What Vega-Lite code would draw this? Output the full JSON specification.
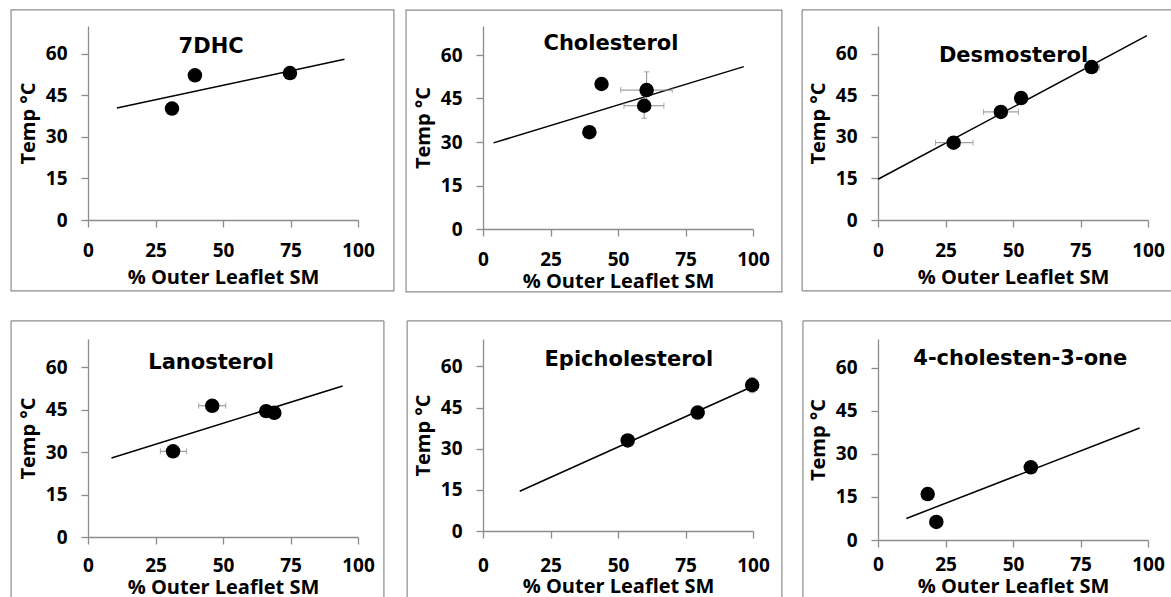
{
  "$schema": "https://vega.github.io/schema/vega-lite/v6.json",
  "padding": {"left": 10, "top": 9, "right": 0, "bottom": 0},
  "background": "white",
  "bounds": "flush",
  "columns": 3,
  "spacing": {"row": 110, "column": 125},
  "datasets": {
    "panels": [
      {"compound": "7DHC"}, {"compound": "Cholesterol"}, {"compound": "Desmosterol"},
      {"compound": "Lanosterol"}, {"compound": "Epicholesterol"}, {"compound": "4-cholesten-3-one"}
    ],
    "points": [
      {"compound": "7DHC", "x": 31.1, "y": 40.2},
      {"compound": "7DHC", "x": 39.6, "y": 52.2},
      {"compound": "7DHC", "x": 74.8, "y": 53.0},
      {"compound": "Cholesterol", "x": 39.4, "y": 33.4},
      {"compound": "Cholesterol", "x": 43.9, "y": 50.0},
      {"compound": "Cholesterol", "x": 60.6, "y": 47.9, "xlo": 51.0, "xhi": 70.1, "ylo": 41.6, "yhi": 54.2},
      {"compound": "Cholesterol", "x": 59.7, "y": 42.5, "xlo": 52.2, "xhi": 67.0, "ylo": 38.2, "yhi": 46.8},
      {"compound": "Desmosterol", "x": 28.0, "y": 27.9, "xlo": 21.3, "xhi": 35.2},
      {"compound": "Desmosterol", "x": 45.5, "y": 39.0, "xlo": 39.1, "xhi": 52.0},
      {"compound": "Desmosterol", "x": 53.0, "y": 44.0},
      {"compound": "Desmosterol", "x": 79.1, "y": 55.2, "xlo": 76.5, "xhi": 82.0},
      {"compound": "Lanosterol", "x": 31.5, "y": 30.3, "xlo": 26.8, "xhi": 36.5},
      {"compound": "Lanosterol", "x": 46.0, "y": 46.4, "xlo": 41.0, "xhi": 51.0},
      {"compound": "Lanosterol", "x": 66.0, "y": 44.5},
      {"compound": "Lanosterol", "x": 69.0, "y": 43.9},
      {"compound": "Epicholesterol", "x": 53.6, "y": 33.0},
      {"compound": "Epicholesterol", "x": 79.5, "y": 43.2},
      {"compound": "Epicholesterol", "x": 99.7, "y": 53.2, "ylo": 50.4, "yhi": 56.0},
      {"compound": "4-cholesten-3-one", "x": 18.4, "y": 16.0},
      {"compound": "4-cholesten-3-one", "x": 21.6, "y": 6.3},
      {"compound": "4-cholesten-3-one", "x": 56.6, "y": 25.3}
    ],
    "lines": [
      {"compound": "7DHC", "x": 10.7, "y": 40.4},
      {"compound": "7DHC", "x": 95.0, "y": 58.0},
      {"compound": "Cholesterol", "x": 3.9, "y": 29.7},
      {"compound": "Cholesterol", "x": 96.6, "y": 56.0},
      {"compound": "Desmosterol", "x": 0.0, "y": 14.7},
      {"compound": "Desmosterol", "x": 99.6, "y": 66.5},
      {"compound": "Lanosterol", "x": 8.7, "y": 27.9},
      {"compound": "Lanosterol", "x": 94.3, "y": 53.4},
      {"compound": "Epicholesterol", "x": 13.6, "y": 14.5},
      {"compound": "Epicholesterol", "x": 99.4, "y": 52.5},
      {"compound": "4-cholesten-3-one", "x": 10.5, "y": 7.5},
      {"compound": "4-cholesten-3-one", "x": 96.9, "y": 39.0}
    ]
  },
  "concat": [
    {
      "width": 270, "height": 194,
      "layer": [
        {"data": {"name": "panels"}, "transform": [{"filter": "datum.compound == '7DHC'"}],
         "mark": {"type": "rect", "filled": false, "stroke": "#8c8c8c", "strokeWidth": 1.2},
         "encoding": {
           "x": {"datum": -28.5, "type": "quantitative", "scale": {"domain": [0, 100], "nice": false}, "axis": {"values": [0, 25, 50, 75, 100], "title": "% Outer Leaflet SM"}},
           "x2": {"datum": 113.3},
           "y": {"datum": -25.6, "type": "quantitative", "scale": {"domain": [0, 70], "nice": false}, "axis": {"values": [0, 15, 30, 45, 60], "title": "Temp °C"}},
           "y2": {"datum": 75.8}}},
        {"data": {"name": "lines"}, "transform": [{"filter": "datum.compound == '7DHC'"}],
         "mark": {"type": "line", "color": "#000", "strokeWidth": 1.5},
         "encoding": {
           "x": {"field": "x", "type": "quantitative", "scale": {"domain": [0, 100], "nice": false}, "axis": {"values": [0, 25, 50, 75, 100], "title": "% Outer Leaflet SM"}},
           "y": {"field": "y", "type": "quantitative", "scale": {"domain": [0, 70], "nice": false}, "axis": {"values": [0, 15, 30, 45, 60], "title": "Temp °C"}}}},
        {"data": {"name": "points"}, "transform": [{"filter": "datum.compound == '7DHC'"}],
         "mark": {"type": "circle", "size": 210, "color": "#000", "opacity": 1},
         "encoding": {
           "x": {"field": "x", "type": "quantitative", "scale": {"domain": [0, 100], "nice": false}, "axis": {"values": [0, 25, 50, 75, 100], "title": "% Outer Leaflet SM"}},
           "y": {"field": "y", "type": "quantitative", "scale": {"domain": [0, 70], "nice": false}, "axis": {"values": [0, 15, 30, 45, 60], "title": "Temp °C"}}}},
        {"data": {"name": "panels"}, "transform": [{"filter": "datum.compound == '7DHC'"}],
         "mark": {"type": "text", "font": "DejaVu Sans", "fontWeight": "bold", "fontSize": 21, "align": "center", "baseline": "middle", "color": "#000"},
         "encoding": {
           "x": {"datum": 45.6, "type": "quantitative", "scale": {"domain": [0, 100], "nice": false}, "axis": {"values": [0, 25, 50, 75, 100], "title": "% Outer Leaflet SM"}},
           "y": {"datum": 62.4, "type": "quantitative", "scale": {"domain": [0, 70], "nice": false}, "axis": {"values": [0, 15, 30, 45, 60], "title": "Temp °C"}},
           "text": {"field": "compound"}}}
      ]
    },
    {
      "width": 270, "height": 203,
      "layer": [
        {"data": {"name": "panels"}, "transform": [{"filter": "datum.compound == 'Cholesterol'"}],
         "mark": {"type": "rect", "filled": false, "stroke": "#8c8c8c", "strokeWidth": 1.2},
         "encoding": {
           "x": {"datum": -28.5, "type": "quantitative", "scale": {"domain": [0, 100], "nice": false}, "axis": {"values": [0, 25, 50, 75, 100], "title": "% Outer Leaflet SM", "titlePadding": 2}},
           "x2": {"datum": 110.7},
           "y": {"datum": -21.7, "type": "quantitative", "scale": {"domain": [0, 70], "nice": false}, "axis": {"values": [0, 15, 30, 45, 60], "title": "Temp °C"}},
           "y2": {"datum": 75.5}}},
        {"data": {"name": "lines"}, "transform": [{"filter": "datum.compound == 'Cholesterol'"}],
         "mark": {"type": "line", "color": "#000", "strokeWidth": 1.5},
         "encoding": {
           "x": {"field": "x", "type": "quantitative", "scale": {"domain": [0, 100], "nice": false}, "axis": {"values": [0, 25, 50, 75, 100], "title": "% Outer Leaflet SM", "titlePadding": 2}},
           "y": {"field": "y", "type": "quantitative", "scale": {"domain": [0, 70], "nice": false}, "axis": {"values": [0, 15, 30, 45, 60], "title": "Temp °C"}}}},
        {"data": {"name": "points"}, "transform": [{"filter": "datum.compound == 'Cholesterol' && isValid(datum.xlo)"}],
         "mark": {"type": "errorbar", "ticks": {"size": 6}, "color": "#8a8a8a", "thickness": 1},
         "encoding": {
           "x": {"field": "xlo", "type": "quantitative", "scale": {"domain": [0, 100], "nice": false}, "axis": {"values": [0, 25, 50, 75, 100], "title": "% Outer Leaflet SM", "titlePadding": 2}},
           "x2": {"field": "xhi"},
           "y": {"field": "y", "type": "quantitative", "scale": {"domain": [0, 70], "nice": false}, "axis": {"values": [0, 15, 30, 45, 60], "title": "Temp °C"}}}},
        {"data": {"name": "points"}, "transform": [{"filter": "datum.compound == 'Cholesterol' && isValid(datum.ylo)"}],
         "mark": {"type": "errorbar", "ticks": {"size": 6}, "color": "#8a8a8a", "thickness": 1},
         "encoding": {
           "y": {"field": "ylo", "type": "quantitative", "scale": {"domain": [0, 70], "nice": false}, "axis": {"values": [0, 15, 30, 45, 60], "title": "Temp °C"}},
           "y2": {"field": "yhi"},
           "x": {"field": "x", "type": "quantitative", "scale": {"domain": [0, 100], "nice": false}, "axis": {"values": [0, 25, 50, 75, 100], "title": "% Outer Leaflet SM", "titlePadding": 2}}}},
        {"data": {"name": "points"}, "transform": [{"filter": "datum.compound == 'Cholesterol'"}],
         "mark": {"type": "circle", "size": 210, "color": "#000", "opacity": 1},
         "encoding": {
           "x": {"field": "x", "type": "quantitative", "scale": {"domain": [0, 100], "nice": false}, "axis": {"values": [0, 25, 50, 75, 100], "title": "% Outer Leaflet SM", "titlePadding": 2}},
           "y": {"field": "y", "type": "quantitative", "scale": {"domain": [0, 70], "nice": false}, "axis": {"values": [0, 15, 30, 45, 60], "title": "Temp °C"}}}},
        {"data": {"name": "panels"}, "transform": [{"filter": "datum.compound == 'Cholesterol'"}],
         "mark": {"type": "text", "font": "DejaVu Sans", "fontWeight": "bold", "fontSize": 21, "align": "center", "baseline": "middle", "color": "#000"},
         "encoding": {
           "x": {"datum": 47.4, "type": "quantitative", "scale": {"domain": [0, 100], "nice": false}, "axis": {"values": [0, 25, 50, 75, 100], "title": "% Outer Leaflet SM", "titlePadding": 2}},
           "y": {"datum": 63.9, "type": "quantitative", "scale": {"domain": [0, 70], "nice": false}, "axis": {"values": [0, 15, 30, 45, 60], "title": "Temp °C"}},
           "text": {"field": "compound"}}}
      ]
    },
    {
      "width": 270, "height": 194,
      "layer": [
        {"data": {"name": "panels"}, "transform": [{"filter": "datum.compound == 'Desmosterol'"}],
         "mark": {"type": "rule", "color": "#8c8c8c", "strokeWidth": 1.2},
         "encoding": {
           "x": {"datum": -28.1, "type": "quantitative", "scale": {"domain": [0, 100], "nice": false}, "axis": {"values": [0, 25, 50, 75, 100], "title": "% Outer Leaflet SM"}},
           "x2": {"datum": 108.9},
           "y": {"datum": 75.8, "type": "quantitative", "scale": {"domain": [0, 70], "nice": false}, "axis": {"values": [0, 15, 30, 45, 60], "title": "Temp °C"}}}},
        {"data": {"name": "panels"}, "transform": [{"filter": "datum.compound == 'Desmosterol'"}],
         "mark": {"type": "rule", "color": "#8c8c8c", "strokeWidth": 1.2},
         "encoding": {
           "x": {"datum": -28.1, "type": "quantitative", "scale": {"domain": [0, 100], "nice": false}, "axis": {"values": [0, 25, 50, 75, 100], "title": "% Outer Leaflet SM"}},
           "x2": {"datum": 108.9},
           "y": {"datum": -25.6, "type": "quantitative", "scale": {"domain": [0, 70], "nice": false}, "axis": {"values": [0, 15, 30, 45, 60], "title": "Temp °C"}}}},
        {"data": {"name": "panels"}, "transform": [{"filter": "datum.compound == 'Desmosterol'"}],
         "mark": {"type": "rule", "color": "#8c8c8c", "strokeWidth": 1.2},
         "encoding": {
           "x": {"datum": -28.1, "type": "quantitative", "scale": {"domain": [0, 100], "nice": false}, "axis": {"values": [0, 25, 50, 75, 100], "title": "% Outer Leaflet SM"}},
           "y": {"datum": -25.6, "type": "quantitative", "scale": {"domain": [0, 70], "nice": false}, "axis": {"values": [0, 15, 30, 45, 60], "title": "Temp °C"}},
           "y2": {"datum": 75.8}}},
        {"data": {"name": "lines"}, "transform": [{"filter": "datum.compound == 'Desmosterol'"}],
         "mark": {"type": "line", "color": "#000", "strokeWidth": 1.5},
         "encoding": {
           "x": {"field": "x", "type": "quantitative", "scale": {"domain": [0, 100], "nice": false}, "axis": {"values": [0, 25, 50, 75, 100], "title": "% Outer Leaflet SM"}},
           "y": {"field": "y", "type": "quantitative", "scale": {"domain": [0, 70], "nice": false}, "axis": {"values": [0, 15, 30, 45, 60], "title": "Temp °C"}}}},
        {"data": {"name": "points"}, "transform": [{"filter": "datum.compound == 'Desmosterol' && isValid(datum.xlo)"}],
         "mark": {"type": "errorbar", "ticks": {"size": 6}, "color": "#8a8a8a", "thickness": 1},
         "encoding": {
           "x": {"field": "xlo", "type": "quantitative", "scale": {"domain": [0, 100], "nice": false}, "axis": {"values": [0, 25, 50, 75, 100], "title": "% Outer Leaflet SM"}},
           "x2": {"field": "xhi"},
           "y": {"field": "y", "type": "quantitative", "scale": {"domain": [0, 70], "nice": false}, "axis": {"values": [0, 15, 30, 45, 60], "title": "Temp °C"}}}},
        {"data": {"name": "points"}, "transform": [{"filter": "datum.compound == 'Desmosterol'"}],
         "mark": {"type": "circle", "size": 210, "color": "#000", "opacity": 1},
         "encoding": {
           "x": {"field": "x", "type": "quantitative", "scale": {"domain": [0, 100], "nice": false}, "axis": {"values": [0, 25, 50, 75, 100], "title": "% Outer Leaflet SM"}},
           "y": {"field": "y", "type": "quantitative", "scale": {"domain": [0, 70], "nice": false}, "axis": {"values": [0, 15, 30, 45, 60], "title": "Temp °C"}}}},
        {"data": {"name": "panels"}, "transform": [{"filter": "datum.compound == 'Desmosterol'"}],
         "mark": {"type": "text", "font": "DejaVu Sans", "fontWeight": "bold", "fontSize": 21, "align": "center", "baseline": "middle", "color": "#000"},
         "encoding": {
           "x": {"datum": 50.2, "type": "quantitative", "scale": {"domain": [0, 100], "nice": false}, "axis": {"values": [0, 25, 50, 75, 100], "title": "% Outer Leaflet SM"}},
           "y": {"datum": 59.0, "type": "quantitative", "scale": {"domain": [0, 70], "nice": false}, "axis": {"values": [0, 15, 30, 45, 60], "title": "Temp °C"}},
           "text": {"field": "compound"}}}
      ]
    },
    {
      "width": 270, "height": 198,
      "layer": [
        {"data": {"name": "panels"}, "transform": [{"filter": "datum.compound == 'Lanosterol'"}],
         "mark": {"type": "rule", "color": "#8c8c8c", "strokeWidth": 1.2},
         "encoding": {
           "x": {"datum": -28.5, "type": "quantitative", "scale": {"domain": [0, 100], "nice": false}, "axis": {"values": [0, 25, 50, 75, 100], "title": "% Outer Leaflet SM", "labelPadding": 12, "titlePadding": 2}},
           "x2": {"datum": 109.6},
           "y": {"datum": 76.4, "type": "quantitative", "scale": {"domain": [0, 70], "nice": false}, "axis": {"values": [0, 15, 30, 45, 60], "title": "Temp °C"}}}},
        {"data": {"name": "panels"}, "transform": [{"filter": "datum.compound == 'Lanosterol'"}],
         "mark": {"type": "rule", "color": "#8c8c8c", "strokeWidth": 1.2},
         "encoding": {
           "x": {"datum": -28.5, "type": "quantitative", "scale": {"domain": [0, 100], "nice": false}, "axis": {"values": [0, 25, 50, 75, 100], "title": "% Outer Leaflet SM", "labelPadding": 12, "titlePadding": 2}},
           "y": {"datum": -21.6, "type": "quantitative", "scale": {"domain": [0, 70], "nice": false}, "axis": {"values": [0, 15, 30, 45, 60], "title": "Temp °C"}},
           "y2": {"datum": 76.4}}},
        {"data": {"name": "panels"}, "transform": [{"filter": "datum.compound == 'Lanosterol'"}],
         "mark": {"type": "rule", "color": "#8c8c8c", "strokeWidth": 1.2},
         "encoding": {
           "x": {"datum": 109.6, "type": "quantitative", "scale": {"domain": [0, 100], "nice": false}, "axis": {"values": [0, 25, 50, 75, 100], "title": "% Outer Leaflet SM", "labelPadding": 12, "titlePadding": 2}},
           "y": {"datum": -21.6, "type": "quantitative", "scale": {"domain": [0, 70], "nice": false}, "axis": {"values": [0, 15, 30, 45, 60], "title": "Temp °C"}},
           "y2": {"datum": 76.4}}},
        {"data": {"name": "lines"}, "transform": [{"filter": "datum.compound == 'Lanosterol'"}],
         "mark": {"type": "line", "color": "#000", "strokeWidth": 1.5},
         "encoding": {
           "x": {"field": "x", "type": "quantitative", "scale": {"domain": [0, 100], "nice": false}, "axis": {"values": [0, 25, 50, 75, 100], "title": "% Outer Leaflet SM", "labelPadding": 12, "titlePadding": 2}},
           "y": {"field": "y", "type": "quantitative", "scale": {"domain": [0, 70], "nice": false}, "axis": {"values": [0, 15, 30, 45, 60], "title": "Temp °C"}}}},
        {"data": {"name": "points"}, "transform": [{"filter": "datum.compound == 'Lanosterol' && isValid(datum.xlo)"}],
         "mark": {"type": "errorbar", "ticks": {"size": 6}, "color": "#8a8a8a", "thickness": 1},
         "encoding": {
           "x": {"field": "xlo", "type": "quantitative", "scale": {"domain": [0, 100], "nice": false}, "axis": {"values": [0, 25, 50, 75, 100], "title": "% Outer Leaflet SM", "labelPadding": 12, "titlePadding": 2}},
           "x2": {"field": "xhi"},
           "y": {"field": "y", "type": "quantitative", "scale": {"domain": [0, 70], "nice": false}, "axis": {"values": [0, 15, 30, 45, 60], "title": "Temp °C"}}}},
        {"data": {"name": "points"}, "transform": [{"filter": "datum.compound == 'Lanosterol'"}],
         "mark": {"type": "circle", "size": 210, "color": "#000", "opacity": 1},
         "encoding": {
           "x": {"field": "x", "type": "quantitative", "scale": {"domain": [0, 100], "nice": false}, "axis": {"values": [0, 25, 50, 75, 100], "title": "% Outer Leaflet SM", "labelPadding": 12, "titlePadding": 2}},
           "y": {"field": "y", "type": "quantitative", "scale": {"domain": [0, 70], "nice": false}, "axis": {"values": [0, 15, 30, 45, 60], "title": "Temp °C"}}}},
        {"data": {"name": "panels"}, "transform": [{"filter": "datum.compound == 'Lanosterol'"}],
         "mark": {"type": "text", "font": "DejaVu Sans", "fontWeight": "bold", "fontSize": 21, "align": "center", "baseline": "middle", "color": "#000"},
         "encoding": {
           "x": {"datum": 45.6, "type": "quantitative", "scale": {"domain": [0, 100], "nice": false}, "axis": {"values": [0, 25, 50, 75, 100], "title": "% Outer Leaflet SM", "labelPadding": 12, "titlePadding": 2}},
           "y": {"datum": 61.5, "type": "quantitative", "scale": {"domain": [0, 70], "nice": false}, "axis": {"values": [0, 15, 30, 45, 60], "title": "Temp °C"}},
           "text": {"field": "compound"}}}
      ]
    },
    {
      "width": 270, "height": 192,
      "layer": [
        {"data": {"name": "panels"}, "transform": [{"filter": "datum.compound == 'Epicholesterol'"}],
         "mark": {"type": "rule", "color": "#8c8c8c", "strokeWidth": 1.2},
         "encoding": {
           "x": {"datum": -28.1, "type": "quantitative", "scale": {"domain": [0, 100], "nice": false}, "axis": {"values": [0, 25, 50, 75, 100], "title": "% Outer Leaflet SM", "labelPadding": 18, "titlePadding": 1}},
           "x2": {"datum": 110.7},
           "y": {"datum": 76.6, "type": "quantitative", "scale": {"domain": [0, 70], "nice": false}, "axis": {"values": [0, 15, 30, 45, 60], "title": "Temp °C"}}}},
        {"data": {"name": "panels"}, "transform": [{"filter": "datum.compound == 'Epicholesterol'"}],
         "mark": {"type": "rule", "color": "#8c8c8c", "strokeWidth": 1.2},
         "encoding": {
           "x": {"datum": -28.1, "type": "quantitative", "scale": {"domain": [0, 100], "nice": false}, "axis": {"values": [0, 25, 50, 75, 100], "title": "% Outer Leaflet SM", "labelPadding": 18, "titlePadding": 1}},
           "y": {"datum": -24.4, "type": "quantitative", "scale": {"domain": [0, 70], "nice": false}, "axis": {"values": [0, 15, 30, 45, 60], "title": "Temp °C"}},
           "y2": {"datum": 76.6}}},
        {"data": {"name": "panels"}, "transform": [{"filter": "datum.compound == 'Epicholesterol'"}],
         "mark": {"type": "rule", "color": "#8c8c8c", "strokeWidth": 1.2},
         "encoding": {
           "x": {"datum": 110.7, "type": "quantitative", "scale": {"domain": [0, 100], "nice": false}, "axis": {"values": [0, 25, 50, 75, 100], "title": "% Outer Leaflet SM", "labelPadding": 18, "titlePadding": 1}},
           "y": {"datum": -24.4, "type": "quantitative", "scale": {"domain": [0, 70], "nice": false}, "axis": {"values": [0, 15, 30, 45, 60], "title": "Temp °C"}},
           "y2": {"datum": 76.6}}},
        {"data": {"name": "lines"}, "transform": [{"filter": "datum.compound == 'Epicholesterol'"}],
         "mark": {"type": "line", "color": "#000", "strokeWidth": 1.5},
         "encoding": {
           "x": {"field": "x", "type": "quantitative", "scale": {"domain": [0, 100], "nice": false}, "axis": {"values": [0, 25, 50, 75, 100], "title": "% Outer Leaflet SM", "labelPadding": 18, "titlePadding": 1}},
           "y": {"field": "y", "type": "quantitative", "scale": {"domain": [0, 70], "nice": false}, "axis": {"values": [0, 15, 30, 45, 60], "title": "Temp °C"}}}},
        {"data": {"name": "points"}, "transform": [{"filter": "datum.compound == 'Epicholesterol' && isValid(datum.ylo)"}],
         "mark": {"type": "errorbar", "ticks": {"size": 6}, "color": "#8a8a8a", "thickness": 1},
         "encoding": {
           "y": {"field": "ylo", "type": "quantitative", "scale": {"domain": [0, 70], "nice": false}, "axis": {"values": [0, 15, 30, 45, 60], "title": "Temp °C"}},
           "y2": {"field": "yhi"},
           "x": {"field": "x", "type": "quantitative", "scale": {"domain": [0, 100], "nice": false}, "axis": {"values": [0, 25, 50, 75, 100], "title": "% Outer Leaflet SM", "labelPadding": 18, "titlePadding": 1}}}},
        {"data": {"name": "points"}, "transform": [{"filter": "datum.compound == 'Epicholesterol'"}],
         "mark": {"type": "circle", "size": 210, "color": "#000", "opacity": 1},
         "encoding": {
           "x": {"field": "x", "type": "quantitative", "scale": {"domain": [0, 100], "nice": false}, "axis": {"values": [0, 25, 50, 75, 100], "title": "% Outer Leaflet SM", "labelPadding": 18, "titlePadding": 1}},
           "y": {"field": "y", "type": "quantitative", "scale": {"domain": [0, 70], "nice": false}, "axis": {"values": [0, 15, 30, 45, 60], "title": "Temp °C"}}}},
        {"data": {"name": "panels"}, "transform": [{"filter": "datum.compound == 'Epicholesterol'"}],
         "mark": {"type": "text", "font": "DejaVu Sans", "fontWeight": "bold", "fontSize": 21, "align": "center", "baseline": "middle", "color": "#000"},
         "encoding": {
           "x": {"datum": 54.0, "type": "quantitative", "scale": {"domain": [0, 100], "nice": false}, "axis": {"values": [0, 25, 50, 75, 100], "title": "% Outer Leaflet SM", "labelPadding": 18, "titlePadding": 1}},
           "y": {"datum": 62.2, "type": "quantitative", "scale": {"domain": [0, 70], "nice": false}, "axis": {"values": [0, 15, 30, 45, 60], "title": "Temp °C"}},
           "text": {"field": "compound"}}}
      ]
    },
    {
      "width": 270, "height": 201,
      "layer": [
        {"data": {"name": "panels"}, "transform": [{"filter": "datum.compound == '4-cholesten-3-one'"}],
         "mark": {"type": "rule", "color": "#8c8c8c", "strokeWidth": 1.2},
         "encoding": {
           "x": {"datum": -27.8, "type": "quantitative", "scale": {"domain": [0, 100], "nice": false}, "axis": {"values": [0, 25, 50, 75, 100], "title": "% Outer Leaflet SM", "labelPadding": 8, "titlePadding": 2}},
           "x2": {"datum": 108.9},
           "y": {"datum": 76.3, "type": "quantitative", "scale": {"domain": [0, 70], "nice": false}, "axis": {"values": [0, 15, 30, 45, 60], "title": "Temp °C"}}}},
        {"data": {"name": "panels"}, "transform": [{"filter": "datum.compound == '4-cholesten-3-one'"}],
         "mark": {"type": "rule", "color": "#8c8c8c", "strokeWidth": 1.2},
         "encoding": {
           "x": {"datum": -27.8, "type": "quantitative", "scale": {"domain": [0, 100], "nice": false}, "axis": {"values": [0, 25, 50, 75, 100], "title": "% Outer Leaflet SM", "labelPadding": 8, "titlePadding": 2}},
           "y": {"datum": -20.2, "type": "quantitative", "scale": {"domain": [0, 70], "nice": false}, "axis": {"values": [0, 15, 30, 45, 60], "title": "Temp °C"}},
           "y2": {"datum": 76.3}}},
        {"data": {"name": "lines"}, "transform": [{"filter": "datum.compound == '4-cholesten-3-one'"}],
         "mark": {"type": "line", "color": "#000", "strokeWidth": 1.5},
         "encoding": {
           "x": {"field": "x", "type": "quantitative", "scale": {"domain": [0, 100], "nice": false}, "axis": {"values": [0, 25, 50, 75, 100], "title": "% Outer Leaflet SM", "labelPadding": 8, "titlePadding": 2}},
           "y": {"field": "y", "type": "quantitative", "scale": {"domain": [0, 70], "nice": false}, "axis": {"values": [0, 15, 30, 45, 60], "title": "Temp °C"}}}},
        {"data": {"name": "points"}, "transform": [{"filter": "datum.compound == '4-cholesten-3-one'"}],
         "mark": {"type": "circle", "size": 210, "color": "#000", "opacity": 1},
         "encoding": {
           "x": {"field": "x", "type": "quantitative", "scale": {"domain": [0, 100], "nice": false}, "axis": {"values": [0, 25, 50, 75, 100], "title": "% Outer Leaflet SM", "labelPadding": 8, "titlePadding": 2}},
           "y": {"field": "y", "type": "quantitative", "scale": {"domain": [0, 70], "nice": false}, "axis": {"values": [0, 15, 30, 45, 60], "title": "Temp °C"}}}},
        {"data": {"name": "panels"}, "transform": [{"filter": "datum.compound == '4-cholesten-3-one'"}],
         "mark": {"type": "text", "font": "DejaVu Sans", "fontWeight": "bold", "fontSize": 21, "align": "center", "baseline": "middle", "color": "#000"},
         "encoding": {
           "x": {"datum": 52.7, "type": "quantitative", "scale": {"domain": [0, 100], "nice": false}, "axis": {"values": [0, 25, 50, 75, 100], "title": "% Outer Leaflet SM", "labelPadding": 8, "titlePadding": 2}},
           "y": {"datum": 63.0, "type": "quantitative", "scale": {"domain": [0, 70], "nice": false}, "axis": {"values": [0, 15, 30, 45, 60], "title": "Temp °C"}},
           "text": {"field": "compound"}}}
      ]
    }
  ],
  "config": {
    "view": {"stroke": null},
    "font": "Open Sans",
    "axis": {
      "grid": false,
      "domainColor": "#8c8c8c",
      "domainWidth": 1.3,
      "tickColor": "#8c8c8c",
      "tickWidth": 1.3,
      "tickSize": 7,
      "labelFont": "Open Sans",
      "labelFontWeight": "bold",
      "labelFontSize": 19,
      "labelColor": "#000",
      "labelPadding": 14,
      "labelFlush": false,
      "titleFont": "Open Sans",
      "titleFontWeight": "bold",
      "titleFontSize": 20,
      "titleColor": "#000"
    },
    "axisX": {"titlePadding": 7},
    "axisY": {"titlePadding": 7}
  }
}
